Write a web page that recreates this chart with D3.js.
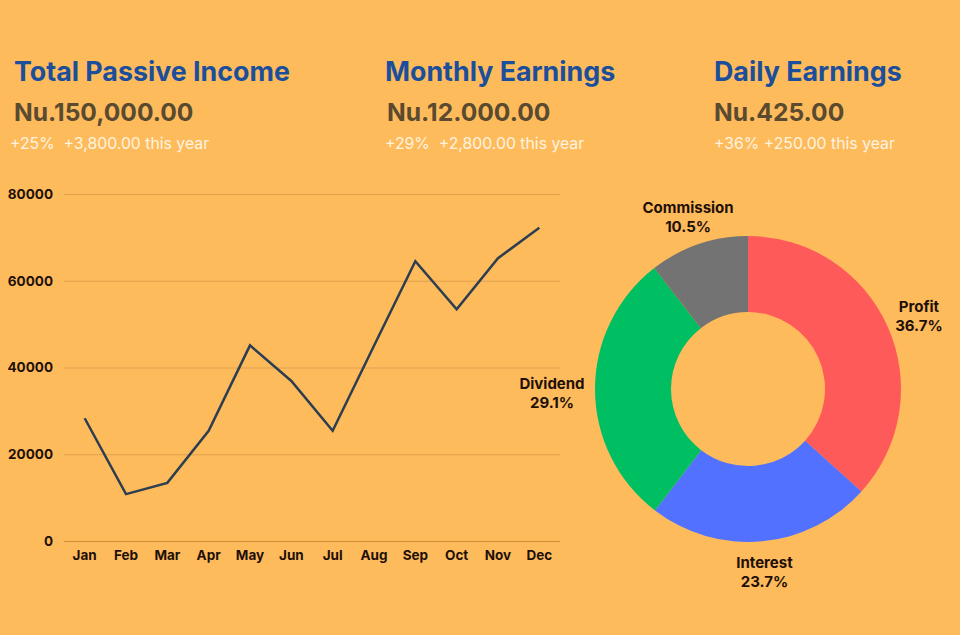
<!DOCTYPE html>
<html>
<head>
<meta charset="utf-8">
<script src="https://cdn.jsdelivr.net/npm/d3@7"></script>
<style>
  html, body { margin: 0; padding: 0; background: #FEBB5C; }
  svg { display: block; }
  text { white-space: pre; }
</style>
</head>
<body>
<svg id="chart" width="960" height="635"></svg>
<script>
// ---- data ----
const months = ["Jan","Feb","Mar","Apr","May","Jun","Jul","Aug","Sep","Oct","Nov","Dec"];
const income = [28300, 10800, 13400, 25400, 45100, 36900, 25400, 45000, 64500, 53400, 65200, 72200];
const yTicks = [0, 20000, 40000, 60000, 80000];

const sources = ["Profit", "Interest", "Dividend", "Commission"];
const shares = [36.7, 23.7, 29.1, 10.5];
const sourceColors = ["#FF5A5A", "#5271FF", "#00BF63", "#737373"];

const kpiTitles = ["Total Passive Income", "Monthly Earnings", "Daily Earnings"];
const kpiValues = ["Nu.150,000.00", "Nu.12.000.00", "Nu.425.00"];
const kpiNotes = ["+25%  +3,800.00 this year", "+29%  +2,800.00 this year", "+36% +250.00 this year"];

// ---- layout ----
const svg = d3.select("#chart");
const FONT = "Inter, 'Noto Sans', sans-serif";

svg.append("rect").attr("width", 960).attr("height", 635).attr("fill", "#FEBB5C");

// KPI headers
const kpiX = [14, 385, 714];
const kpiVX = [14, 387, 714];
const kpiNX = [10, 385, 714];
const kpi = svg.append("g");
kpiTitles.forEach((t, i) => {
  kpi.append("text").attr("x", kpiX[i]).attr("y", 81)
    .attr("font-family", FONT).attr("font-weight", 700).attr("font-size", 26.8)
    .attr("fill", "#1B4E9B").text(t);
  kpi.append("text").attr("x", kpiVX[i]).attr("y", 121)
    .attr("font-family", FONT).attr("font-weight", 700).attr("font-size", 24.6)
    .attr("fill", "#5A4A30").text(kpiValues[i]);
  kpi.append("text").attr("x", kpiNX[i]).attr("y", 149)
    .attr("font-family", FONT).attr("font-weight", 400).attr("font-size", 15.8)
    .attr("fill", "#FFF3E0").attr("xml:space", "preserve").text(kpiNotes[i]);
});

// Line chart
const x = d3.scaleBand().domain(months).range([64, 560]).padding(0);
const y = d3.scaleLinear().domain([0, 80000]).range([541, 194]);

const g = svg.append("g");
const yAxis = d3.axisLeft(y).tickValues(yTicks).tickSize(-(560 - 64)).tickPadding(11).tickFormat(d3.format("d"));
const ya = g.append("g").attr("transform", "translate(64,0)").call(yAxis);
ya.select(".domain").remove();
ya.selectAll(".tick line").attr("stroke", (d) => d === 0 ? "#C98C3A" : "#DFA04E").attr("stroke-width", 1);
ya.selectAll(".tick text").attr("font-family", FONT).attr("font-weight", 700)
  .attr("font-size", 13.5).attr("fill", "#1E1008");

const xAxis = d3.axisBottom(x).tickSize(0).tickPadding(9);
const xa = g.append("g").attr("transform", "translate(0,541)").call(xAxis);
xa.select(".domain").remove();
xa.selectAll(".tick text").attr("font-family", FONT).attr("font-weight", 700)
  .attr("font-size", 13.5).attr("fill", "#1E1008");

const line = d3.line().x((d, i) => x(months[i]) + x.bandwidth() / 2).y(d => y(d));
g.append("path").datum(income).attr("d", line)
  .attr("fill", "none").attr("stroke", "#2D3E50").attr("stroke-width", 2.5)
  .attr("stroke-linejoin", "miter");

// Donut
const cx = 748, cy = 389, rOuter = 153, rInner = 77;
const pie = d3.pie().sort(null).value(d => d);
const arcs = pie(shares);
const arc = d3.arc().innerRadius(rInner).outerRadius(rOuter);
const dg = svg.append("g").attr("transform", `translate(${cx},${cy})`);
dg.selectAll("path").data(arcs).join("path")
  .attr("d", arc).attr("fill", (d, i) => sourceColors[i]);

const labelR = [187, 181, 196, 185];
const labelArc = (d, i) => d3.arc().innerRadius(labelR[i]).outerRadius(labelR[i]).centroid(d);
const lg = dg.selectAll("g.lbl").data(arcs).join("g").attr("class", "lbl")
  .attr("transform", (d, i) => { const c = labelArc(d, i); return `translate(${c[0]},${c[1]})`; });
lg.append("text").attr("text-anchor", "middle").attr("y", -1)
  .attr("font-family", FONT).attr("font-weight", 700).attr("font-size", 15).attr("fill", "#1E1008")
  .text((d, i) => sources[i]);
lg.append("text").attr("text-anchor", "middle").attr("y", 18)
  .attr("font-family", FONT).attr("font-weight", 700).attr("font-size", 15).attr("fill", "#1E1008")
  .text((d, i) => shares[i].toFixed(1) + "%");
</script>
</body>
</html>
